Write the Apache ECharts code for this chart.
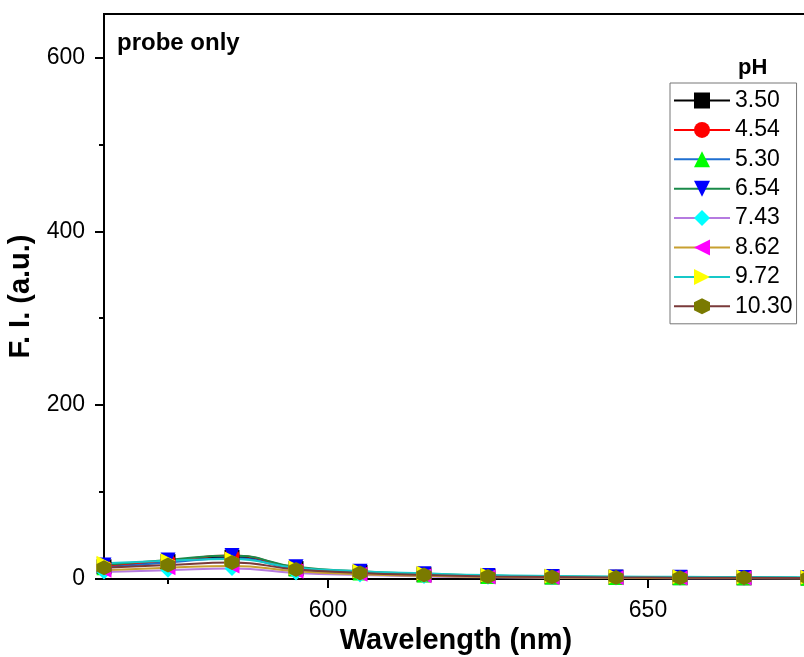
<!DOCTYPE html>
<html>
<head>
<meta charset="utf-8">
<script src="https://cdn.jsdelivr.net/npm/echarts@6/dist/echarts.min.js"></script>
<style>
  html, body { margin: 0; padding: 0; background: #fff; }
  #chart { width: 804px; height: 657px; }
</style>
</head>
<body>
<div id="chart"></div>
<script>
// wavelength (nm) and emission intensity per pH
const wavelengths = [565, 575, 585, 595, 605, 615, 625, 635, 645, 655, 665, 675];
const phLabels = ['3.50', '4.54', '5.30', '6.54', '7.43', '8.62', '9.72', '10.30'];
const fi350 = [14, 20, 25, 12, 7.5, 5, 3.2, 2.5, 2, 1.6, 1.4, 1.2];
const fi454 = [15, 21, 27, 13, 8, 5.2, 3.5, 2.6, 2.1, 1.7, 1.5, 1.2];
const fi530 = [13, 19, 24, 11.5, 7, 4.6, 3, 2.3, 1.8, 1.4, 1.3, 1];
const fi654 = [16, 22, 27, 14, 9, 6, 4, 3, 2.4, 1.9, 1.6, 1.3];
const fi743 = [8, 10, 12, 7, 4.5, 3, 2, 1.5, 1.2, 1, 0.9, 0.8];
const fi862 = [10, 13, 15, 9, 5.5, 3.6, 2.4, 1.8, 1.4, 1.2, 1.1, 0.9];
const fi972 = [18, 21, 23, 13, 9, 6.5, 4.5, 3.5, 3, 2.5, 2.2, 2];
const fi1030 = [13, 16, 19, 11, 7, 4.6, 3, 2.3, 1.8, 1.5, 1.3, 1.1];
const allValues = [fi350, fi454, fi530, fi654, fi743, fi862, fi972, fi1030];

const xMajor = [600, 650];
const xMinor = [575, 625, 675];
const yMajor = [0, 200, 400, 600];
const yMinor = [100, 300, 500];

const lineColors = ['#000000', '#ff0000', '#1f6fd0', '#1a8a4a', '#b57be0', '#c8a030', '#16c8c8', '#7a3a3a'];
const symColors = ['#000000', '#ff0000', '#00ff00', '#0000ff', '#00ffff', '#ff00ff', '#ffff00', '#7a7a00'];
const hexagon = 'path://M0,-1L0.866,-0.5L0.866,0.5L0,1L-0.866,0.5L-0.866,-0.5Z';
const symbols = ['rect', 'circle', 'triangle', 'triangle', 'diamond', 'triangle', 'triangle', hexagon];
const rotates = [0, 0, 0, 180, 0, 90, -90, 0];

const font = 'Liberation Sans, Arial, sans-serif';
const chart = echarts.init(document.getElementById('chart'));

const gridBox = { left: 104, top: 14, right: -4, bottom: 78, outerBoundsMode: 'none', containLabel: false };

const series = phLabels.map((name, i) => ({
  name: name,
  type: 'line',
  smooth: true,
  xAxisIndex: 0,
  yAxisIndex: 0,
  symbol: symbols[i],
  symbolRotate: rotates[i],
  symbolSize: 15,
  lineStyle: { color: lineColors[i], width: 2 },
  itemStyle: { color: symColors[i] },
  data: wavelengths.map((w, j) => [w, allValues[i][j]])
}));

const option = {
  animation: false,
  grid: [
    Object.assign({ show: true, borderColor: '#000', borderWidth: 2, backgroundColor: 'transparent' }, gridBox),
    Object.assign({ show: false }, gridBox)
  ],
  xAxis: [{
    type: 'value',
    gridIndex: 0,
    min: 565,
    max: 675,
    name: 'Wavelength (nm)',
    nameLocation: 'middle',
    nameGap: 47,
    nameTextStyle: { fontFamily: font, fontSize: 29, fontWeight: 'bold', color: '#000' },
    axisLine: { show: true, onZero: false, lineStyle: { color: '#000', width: 2 } },
    axisTick: { show: true, length: 9, customValues: xMajor, lineStyle: { color: '#000', width: 2 } },
    axisLabel: { customValues: xMajor, margin: 20, fontFamily: font, fontSize: 23, color: '#000' },
    splitLine: { show: false }
  }, {
    type: 'value',
    gridIndex: 1,
    min: 565,
    max: 675,
    axisLine: { show: false },
    axisTick: { show: true, length: 5, customValues: xMinor, lineStyle: { color: '#000', width: 2 } },
    axisLabel: { show: false },
    splitLine: { show: false }
  }],
  yAxis: [{
    type: 'value',
    gridIndex: 0,
    min: 0,
    max: 650,
    name: 'F. I. (a.u.)',
    nameLocation: 'middle',
    nameGap: 66,
    nameTextStyle: { fontFamily: font, fontSize: 29, fontWeight: 'bold', color: '#000' },
    axisLine: { show: true, onZero: false, lineStyle: { color: '#000', width: 2 } },
    axisTick: { show: true, length: 9, customValues: yMajor, lineStyle: { color: '#000', width: 2 } },
    axisLabel: { customValues: yMajor, margin: 19, fontFamily: font, fontSize: 23, color: '#000' },
    splitLine: { show: false }
  }, {
    type: 'value',
    gridIndex: 1,
    min: 0,
    max: 650,
    axisLine: { show: false },
    axisTick: { show: true, length: 5, customValues: yMinor, lineStyle: { color: '#000', width: 2 } },
    axisLabel: { show: false },
    splitLine: { show: false }
  }],
  legend: {
    orient: 'vertical',
    left: 670,
    top: 83,
    padding: [6, 4, 6, 3],
    itemGap: 6.4,
    itemWidth: 56,
    itemHeight: 20,
    borderColor: '#777',
    borderWidth: 1,
    textStyle: { fontFamily: font, fontSize: 23, color: '#000' },
    data: phLabels.map((name, i) => ({
      name: name,
      itemStyle: { color: symColors[i], borderWidth: 0 },
      lineStyle: { color: lineColors[i], width: 2 }
    }))
  },
  graphic: [{
    type: 'text',
    left: 117,
    top: 31,
    style: { text: 'probe only', font: 'bold 24px ' + font, fill: '#000' }
  }, {
    type: 'text',
    left: 738,
    top: 57,
    style: { text: 'pH', font: 'bold 22px ' + font, fill: '#000' }
  }],
  series: series
};

chart.setOption(option);
</script>
</body>
</html>
